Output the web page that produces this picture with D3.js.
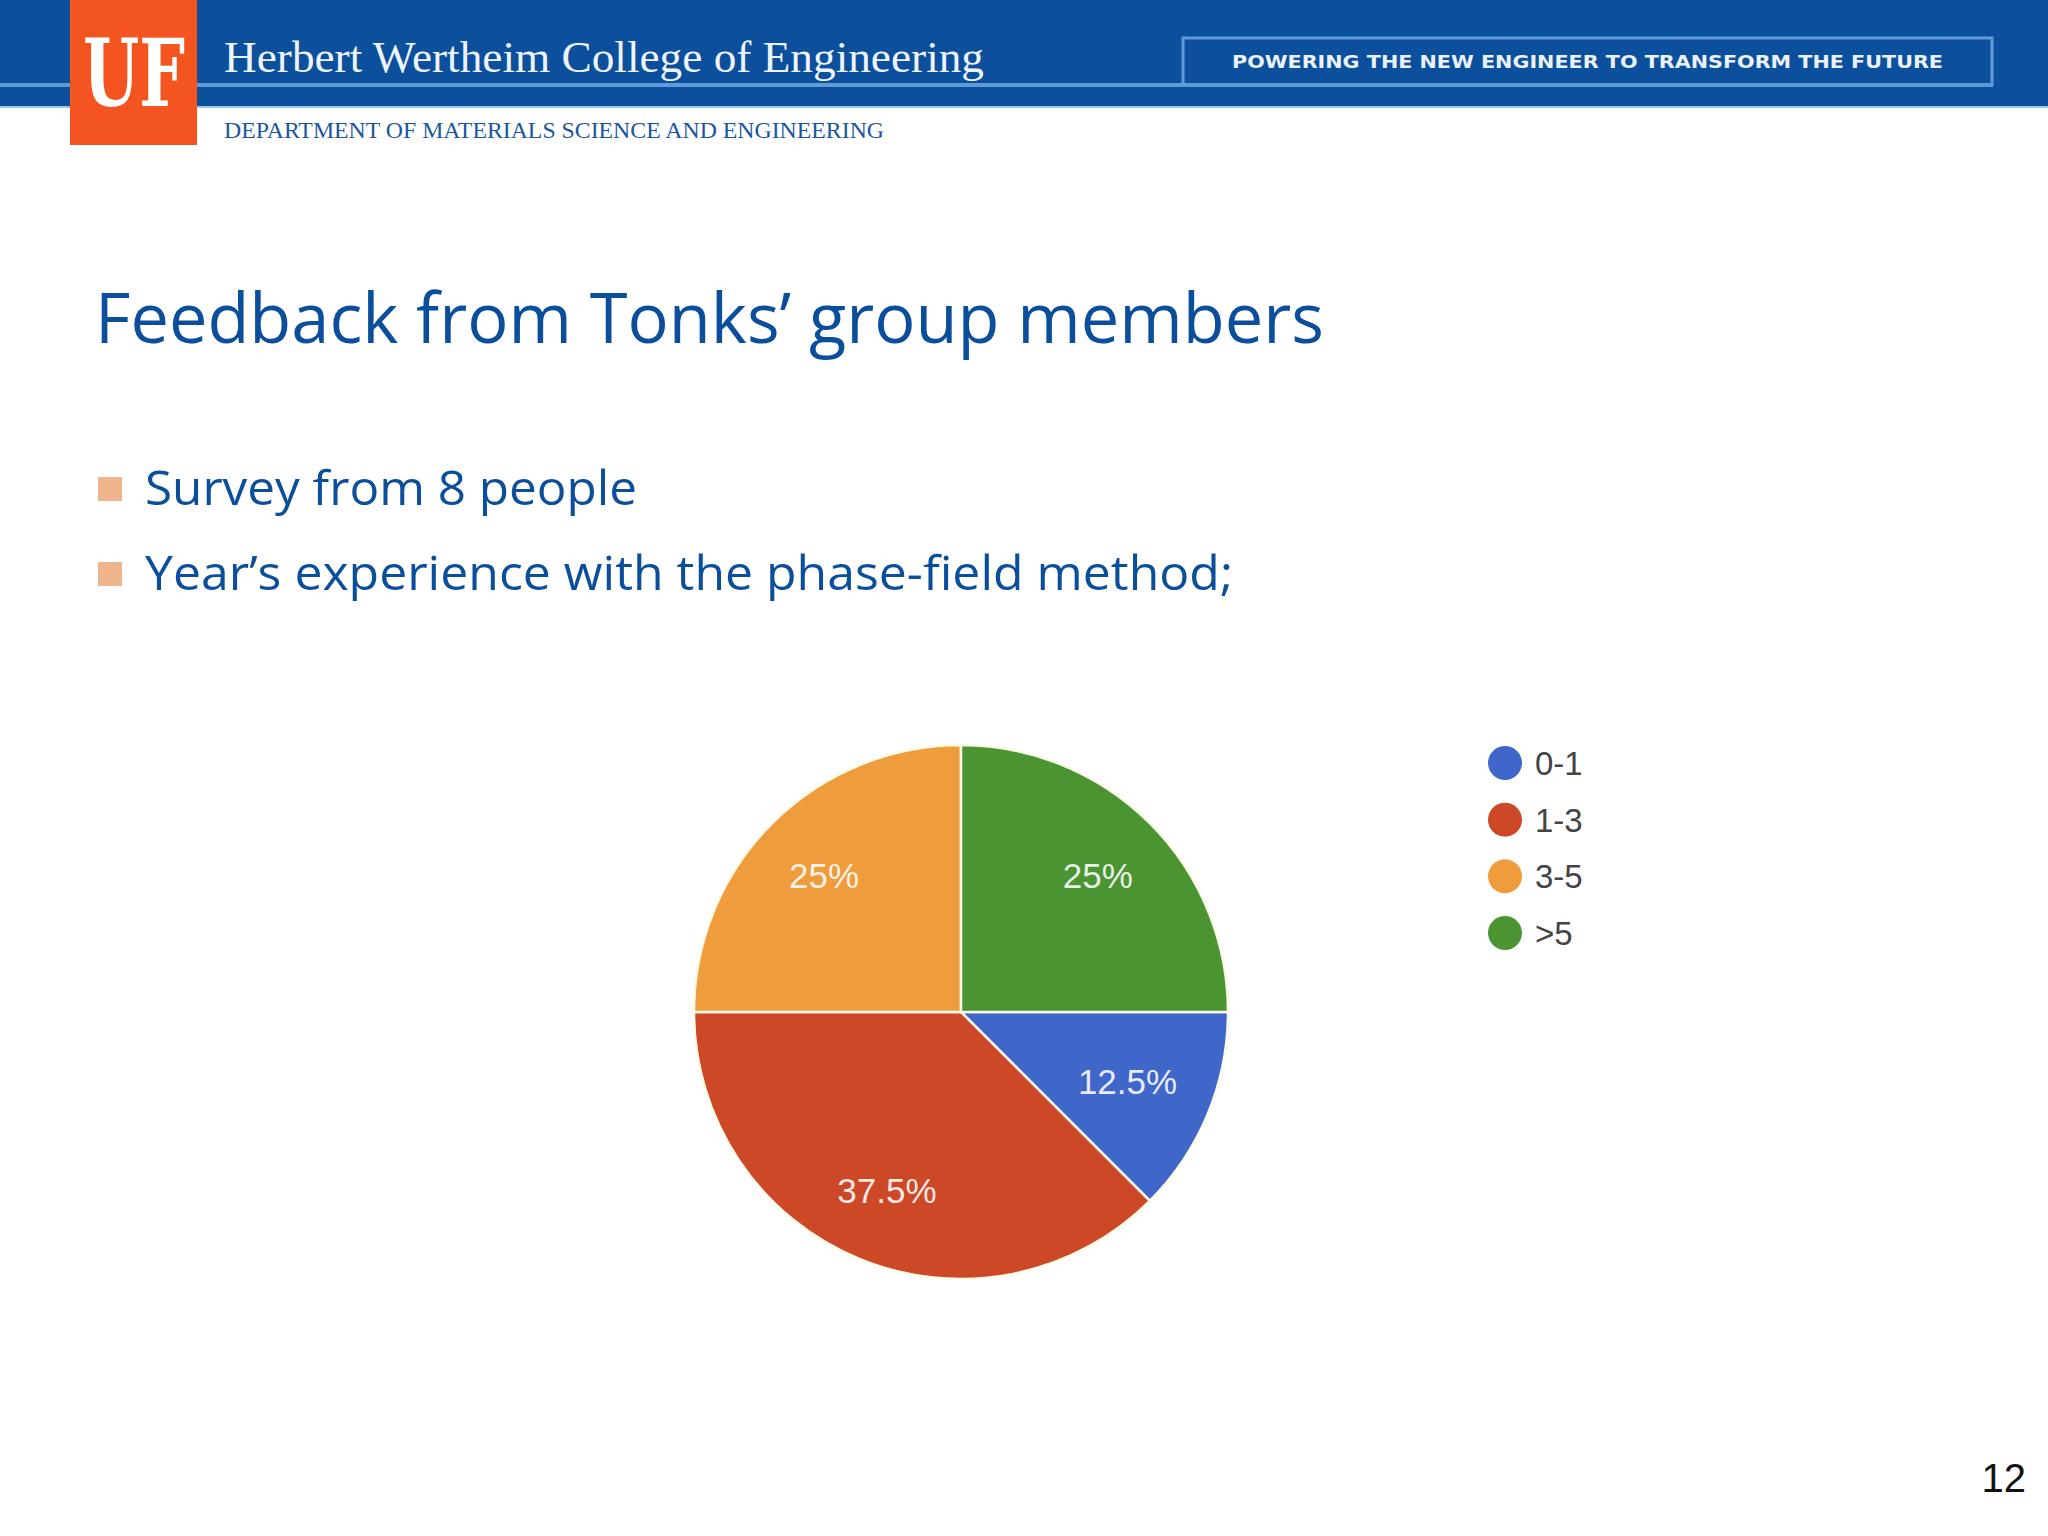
<!DOCTYPE html>
<html>
<head>
<meta charset="utf-8">
<script src="https://cdn.jsdelivr.net/npm/d3@7"></script>
<style>
  html, body { margin: 0; padding: 0; background: #ffffff; }
  svg { display: block; }
</style>
</head>
<body>
<svg id="chart" width="2048" height="1536"></svg>
<script>
// ---- data ----
const categories = ["0-1", "1-3", "3-5", ">5"];
const values = [12.5, 37.5, 25, 25];
const sliceLabels = ["12.5%", "37.5%", "25%", "25%"];
const colors = ["#3f66c9", "#cc4827", "#ef9c3c", "#4a9432"];
const titleText = "Feedback from Tonks’ group members";
const bullets = ["Survey from 8 people", "Year’s experience with the phase-field method;"];
const headerTitle = "Herbert Wertheim College of Engineering";
const headerDept = "DEPARTMENT OF MATERIALS SCIENCE AND ENGINEERING";
const headerTag = "POWERING THE NEW ENGINEER TO TRANSFORM THE FUTURE";
const pageNumber = "12";

const svg = d3.select("#chart");

// ---- header band ----
const hdr = svg.append("g");
hdr.append("rect").attr("x", 0).attr("y", 0).attr("width", 2048).attr("height", 107).attr("fill", "#0c4f9d");
hdr.append("rect").attr("x", 0).attr("y", 106).attr("width", 2048).attr("height", 2).attr("fill", "#9cc3ea");
hdr.append("rect").attr("x", 0).attr("y", 83).attr("width", 1993).attr("height", 4).attr("fill", "#5e9bd8");
// tagline box
hdr.append("rect").attr("x", 1183).attr("y", 38).attr("width", 809).attr("height", 47)
  .attr("fill", "none").attr("stroke", "#5e9bd8").attr("stroke-width", 3);
hdr.append("text").attr("x", 1232).attr("y", 68)
  .attr("textLength", 711).attr("lengthAdjust", "spacingAndGlyphs")
  .attr("font-family", "'DejaVu Sans', sans-serif").attr("font-weight", "bold")
  .attr("font-size", 17).attr("fill", "#eaf2fb").text(headerTag);
// UF box
hdr.append("rect").attr("x", 70).attr("y", 0).attr("width", 127).attr("height", 145).attr("fill", "#f4541f");
hdr.append("text").attr("x", 83).attr("y", 106)
  .attr("textLength", 102).attr("lengthAdjust", "spacingAndGlyphs")
  .attr("font-family", "'DejaVu Serif', serif").attr("font-weight", "bold")
  .attr("font-size", 94).attr("fill", "#ffffff").text("UF");
hdr.append("text").attr("x", 224).attr("y", 72)
  .attr("textLength", 760).attr("lengthAdjust", "spacingAndGlyphs")
  .attr("font-family", "'Liberation Serif', serif")
  .attr("font-size", 45).attr("fill", "#eef4fb").text(headerTitle);
hdr.append("text").attr("x", 224).attr("y", 138)
  .attr("textLength", 660).attr("lengthAdjust", "spacingAndGlyphs")
  .attr("font-family", "'Liberation Serif', serif")
  .attr("font-size", 24).attr("fill", "#1a56a0").text(headerDept);

// ---- title and bullets ----
svg.append("text").attr("x", 95).attr("y", 343)
  .attr("textLength", 1229).attr("lengthAdjust", "spacingAndGlyphs")
  .attr("font-family", "'Open Sans', sans-serif")
  .attr("font-size", 70).attr("fill", "#0b4f9c").text(titleText);

const bulletY = [505, 590];
const bulletW = [492, 1088];
bullets.forEach((b, i) => {
  svg.append("rect").attr("x", 98).attr("y", bulletY[i] - 28).attr("width", 24).attr("height", 24)
    .attr("fill", "#efb58c");
  svg.append("text").attr("x", 145).attr("y", bulletY[i])
    .attr("textLength", bulletW[i]).attr("lengthAdjust", "spacingAndGlyphs")
    .attr("font-family", "'Open Sans', sans-serif")
    .attr("font-size", 47).attr("fill", "#0b4f9c").text(b);
});

// ---- pie ----
const cx = 961, cy = 1012, R = 267;
const data = categories.map((c, i) => ({ cat: c, value: values[i], label: sliceLabels[i], color: colors[i] }));
const pie = d3.pie().value(d => d.value).sort(null)
  .startAngle(Math.PI / 2).endAngle(Math.PI / 2 + 2 * Math.PI);
const arc = d3.arc().innerRadius(0).outerRadius(R);
const arcs = pie(data);
const pg = svg.append("g").attr("transform", `translate(${cx},${cy})`);
pg.selectAll("path").data(arcs).join("path")
  .attr("d", arc).attr("fill", d => d.data.color)
  .attr("stroke", "#fbfbe8").attr("stroke-width", 2.5);
pg.selectAll("text").data(arcs).join("text")
  .attr("transform", d => {
    const lr = (d.endAngle - d.startAngle) < Math.PI / 3 ? R * 0.675 : R * 0.725;
    const la = d3.arc().innerRadius(lr).outerRadius(lr);
    return `translate(${la.centroid(d)})`;
  })
  .attr("text-anchor", "middle").attr("dy", "0.36em")
  .attr("font-family", "'Liberation Sans', Arial, sans-serif")
  .attr("font-size", 35).attr("fill", "#ffffff").attr("fill-opacity", 0.88)
  .text(d => d.data.label);

// ---- legend ----
const legY = d3.scalePoint().domain(categories).range([763, 933]);
const lg = svg.append("g");
lg.selectAll("circle").data(data).join("circle")
  .attr("cx", 1505).attr("cy", d => legY(d.cat)).attr("r", 17)
  .attr("fill", d => d.color);
lg.selectAll("text").data(data).join("text")
  .attr("x", 1535).attr("y", d => legY(d.cat)).attr("dy", "0.36em")
  .attr("font-family", "'Liberation Sans', Arial, sans-serif")
  .attr("font-size", 33).attr("fill", "#444444")
  .text(d => d.cat);

// ---- page number ----
svg.append("text").attr("x", 2026).attr("y", 1492).attr("text-anchor", "end")
  .attr("font-family", "'Liberation Sans', Arial, sans-serif")
  .attr("font-size", 40).attr("fill", "#111111").text(pageNumber);
</script>
</body>
</html>
